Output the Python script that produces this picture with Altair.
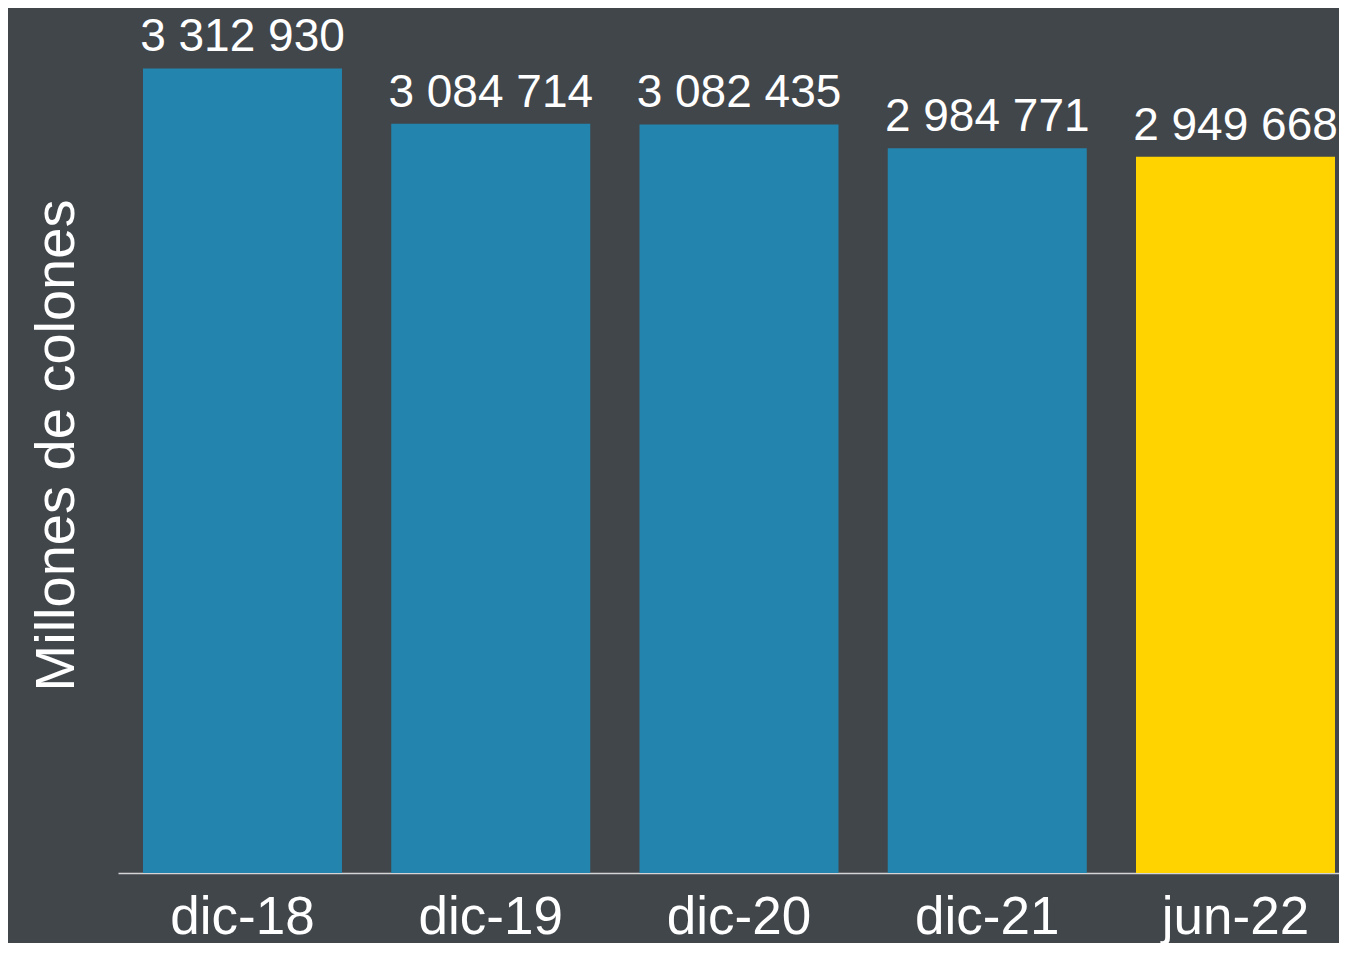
import altair as alt
import pandas as pd

periodos = ["dic-18", "dic-19", "dic-20", "dic-21", "jun-22"]
valores = [3312930, 3084714, 3082435, 2984771, 2949668]
destacado = "jun-22"

df = pd.DataFrame({
    "periodo": periodos,
    "valor": valores,
    "etiqueta": [f"{v:,}".replace(",", " ") for v in valores],
})

FONT = "Liberation Sans"
BLUE = "#2385ae"
YELLOW = "#ffd300"

x = alt.X(
    "periodo:N",
    sort=periodos,
    scale=alt.Scale(paddingInner=0.1984, paddingOuter=0.0584, align=0.862),
    axis=alt.Axis(
        title=None,
        labelAngle=0,
        labelFont=FONT,
        labelFontSize=53,
        labelColor="white",
        labelBaseline="alphabetic",
        labelPadding=60,
        ticks=False,
        tickSize=0,
        domainColor="#d5d5d5",
        domainWidth=1.5,
        grid=False,
    ),
)
y = alt.Y(
    "valor:Q",
    scale=alt.Scale(domain=[0, 3500000], nice=False, zero=True),
    axis=alt.Axis(
        title="Millones de colones",
        titleFont=FONT,
        titleFontSize=56,
        titleFontWeight="normal",
        titleColor="white",
        titleAngle=270,
        titleAlign="center",
        titleBaseline="alphabetic",
        titleX=-45,
        titleY=422,
        labels=False,
        ticks=False,
        domain=False,
        grid=False,
    ),
)

bars = alt.Chart(df).mark_bar().encode(
    x=x,
    y=y,
    color=alt.condition(
        alt.datum.periodo == destacado, alt.value(YELLOW), alt.value(BLUE)
    ),
)

labels = alt.Chart(df).mark_text(
    font=FONT, fontSize=46, color="white", baseline="alphabetic", dy=-17
).encode(x=alt.X("periodo:N", sort=periodos), y="valor:Q", text="etiqueta:N")

chart = (
    alt.layer(bars, labels)
    .properties(
        width=1221,
        height=850,
        padding={"left": 110, "top": 15, "right": 0, "bottom": 70},
        autosize=alt.AutoSizeParams(type="none"),
        background="#41464b",
    )
    .configure_view(stroke=None)
)

chart.save("out.html", embed_options={"renderer": "svg", "actions": False})
